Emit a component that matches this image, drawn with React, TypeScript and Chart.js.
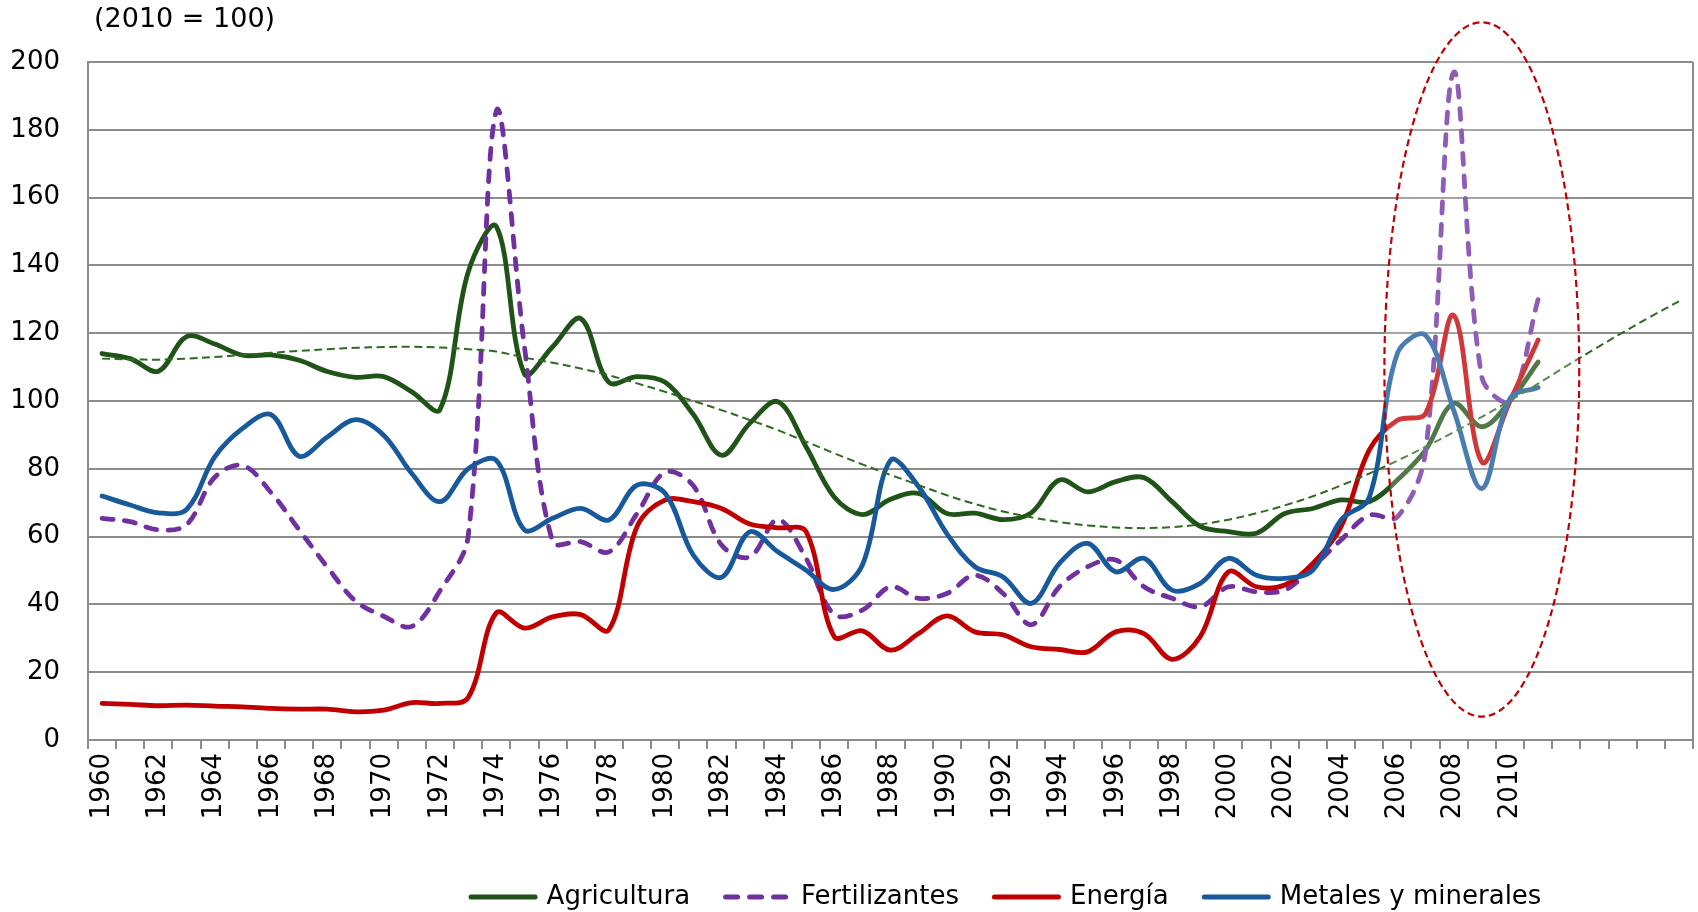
import React, { useEffect, useRef } from 'react';
import { Chart, registerables } from 'chart.js';

Chart.register(...registerables);

const years = [
  '1960', '1961', '1962', '1963', '1964', '1965', '1966', '1967', '1968', '1969',
  '1970', '1971', '1972', '1973', '1974', '1975', '1976', '1977', '1978', '1979',
  '1980', '1981', '1982', '1983', '1984', '1985', '1986', '1987', '1988', '1989',
  '1990', '1991', '1992', '1993', '1994', '1995', '1996', '1997', '1998', '1999',
  '2000', '2001', '2002', '2003', '2004', '2005', '2006', '2007', '2008', '2009',
  '2010', '2011', '2012', '2013', '2014', '2015', '2016',
];

// tick labels shown under the axis (every second year up to 2010)
const shownLabels = [
  '1960', '1962', '1964', '1966', '1968', '1970', '1972', '1974', '1976', '1978',
  '1980', '1982', '1984', '1986', '1988', '1990', '1992', '1994', '1996', '1998',
  '2000', '2002', '2004', '2006', '2008', '2010',
];

const agricultura = [
  114, 112.5, 108.8, 119, 116.8, 113.5, 113.6, 112, 108.7, 107,
  107.2, 102.7, 97.5, 138, 151.5, 108, 116, 124.3, 105.5, 107.2,
  105.5, 96, 84, 93.4, 99.8, 86.5, 71.7, 66.5, 71, 72.7,
  66.8, 66.9, 65, 67, 76.7, 73.2, 76.2, 77.4, 70.3, 63,
  61.5, 61, 66.8, 68.3, 70.8, 70.3, 76.7, 85.5, 99.3, 92.4,
  100, 111.5,
];

const fertilizantes = [
  65.4, 64.4, 62, 63.5, 77.5, 81, 73, 62, 51, 41,
  36.5, 33.5, 44, 60, 185.5, 116, 58.5, 58.5, 55.5, 66.8,
  79, 75, 57.5, 54, 65, 53.6, 37, 38.3, 45.2, 41.8,
  43.2, 48.6, 43.2, 34, 45.2, 51.1, 53.1, 45.2, 41.8, 39.3,
  45.2, 43.7, 44.2, 51.1, 59, 66.3, 65.8, 85, 197, 107,
  100, 130,
];

const energia = [
  10.8, 10.5, 10.1, 10.3, 10, 9.8, 9.3, 9.1, 9.1, 8.3,
  8.8, 11, 10.8, 12.5, 37.5, 33, 36.3, 37, 32.5, 63,
  70.8, 70.3, 68.3, 63.7, 62.6, 61.5, 30.5, 32.2, 26.5, 31.4,
  36.6, 31.9, 31, 27.5, 26.7, 26, 31.9, 31.4, 23.8, 30.5,
  49.6, 45.2, 45.7, 52.1, 62.9, 85.5, 94.3, 96.3, 125.3, 82,
  100, 118,
];

const metales = [
  72, 69.3, 67, 68, 83.5, 92, 96, 83.7, 89.4, 94.5,
  89.9, 78.6, 70.3, 80, 82.5, 62, 65.4, 68.3, 64.9, 75.2,
  72.7, 54.5, 48, 61.4, 55.5, 50.1, 44.4, 51.6, 82.5, 74.7,
  60.9, 51.1, 48.1, 40.3, 52.1, 58, 49.6, 53.6, 44.2, 46.2,
  53.6, 48.6, 47.7, 50.1, 64.9, 71.5, 114, 119.4, 97.3, 74.2,
  100.7, 104,
];

const tendencia = [
  112.5, 112.3, 112.2, 112.5, 113, 113.6, 114.2, 114.8, 115.3, 115.7,
  115.9, 116, 115.8, 115.3, 114.6, 112.8, 111.3, 109.6, 107.6, 105.2,
  102.7, 100, 97.3, 94.4, 91.4, 88, 84.6, 81.3, 78.2, 75.2,
  72.2, 69.6, 67.4, 65.7, 64.3, 63.3, 62.7, 62.5, 62.8, 63.6,
  65, 66.9, 69.2, 71.9, 75.1, 78.6, 82.4, 86.5, 90.8, 95.3,
  100.1, 105.1, 110.3, 115.3, 120.2, 124.9, 129.4,
];

const yTicks = { min: 0, max: 200, step: 20 };
const unitNote = '(2010 = 100)';
// highlighted period (ellipse): centred on 2009, spanning values 7..212
const highlight = { centerIndex: 49, halfWidthCats: 3.46, top: 211.7, bottom: 6.9 };

const FONT = '"DejaVu Sans", Verdana, sans-serif';
const GRID = '#8c8c8c';

const decorPlugin = {
  id: 'decor',
  afterDatasetsDraw(chart: any) {
    const { ctx, scales } = chart;
    const x = scales.x;
    const y = scales.y;
    const cx = x.getPixelForValue(highlight.centerIndex);
    const step = x.getPixelForValue(1) - x.getPixelForValue(0);
    const rx = highlight.halfWidthCats * step;
    const yT = y.getPixelForValue(highlight.top);
    const yB = y.getPixelForValue(highlight.bottom);
    ctx.save();
    ctx.beginPath();
    ctx.ellipse(cx, (yT + yB) / 2, rx, (yB - yT) / 2, 0, 0, Math.PI * 2);
    ctx.fillStyle = 'rgba(255,255,255,0.22)';
    ctx.fill();
    ctx.setLineDash([7, 4]);
    ctx.lineWidth = 2.2;
    ctx.strokeStyle = '#C00000';
    ctx.stroke();
    ctx.restore();
  },
  afterDraw(chart: any) {
    const { ctx, chartArea } = chart;
    ctx.save();
    // right border of plot
    ctx.strokeStyle = GRID;
    ctx.lineWidth = 2;
    ctx.beginPath();
    ctx.moveTo(chartArea.right, chartArea.top);
    ctx.lineTo(chartArea.right, chartArea.bottom);
    ctx.stroke();
    // unit note
    ctx.font = `27px ${FONT}`;
    ctx.fillStyle = '#000';
    ctx.textAlign = 'left';
    ctx.textBaseline = 'middle';
    ctx.fillText(unitNote, chartArea.left + 6, 20);
    // legend
    ctx.font = `26px ${FONT}`;
    const items = chart.data.datasets.filter((d: any) => d.showInLegend);
    const sample = 69;
    const gapText = 9;
    const gapItem = 33;
    const ly = 897;
    let total = 0;
    items.forEach((d: any, i: number) => {
      total += sample + gapText + ctx.measureText(d.label).width + (i < items.length - 1 ? gapItem : 0);
    });
    let lx = 1005 - total / 2;
    items.forEach((d: any) => {
      ctx.beginPath();
      ctx.strokeStyle = d.borderColor;
      ctx.lineWidth = 5;
      ctx.lineCap = 'round';
      ctx.setLineDash(d.legendDash || []);
      ctx.moveTo(lx + 2.5, ly);
      ctx.lineTo(lx + sample - 2.5, ly);
      ctx.stroke();
      ctx.setLineDash([]);
      lx += sample + gapText;
      ctx.fillStyle = '#000';
      ctx.fillText(d.label, lx, ly);
      lx += ctx.measureText(d.label).width + gapItem;
    });
    ctx.restore();
  },
};

export default function App() {
  const canvasRef = useRef<HTMLCanvasElement | null>(null);

  useEffect(() => {
    if (!canvasRef.current) return;
    const common = {
      pointRadius: 0,
      pointHoverRadius: 0,
      fill: false,
      tension: 0.35,
      borderJoinStyle: 'round',
    };
    const chart = new Chart(canvasRef.current, {
      type: 'line',
      data: {
        labels: years,
        datasets: [
          {
            ...common,
            label: 'Tendencia',
            data: tendencia,
            borderColor: '#2E6B1E',
            borderWidth: 2,
            borderDash: [8, 4.5],
            borderCapStyle: 'butt',
            order: 0,
            showInLegend: false,
          },
          {
            ...common,
            label: 'Agricultura',
            data: agricultura,
            borderColor: '#1F5317',
            borderWidth: 4.8,
            borderCapStyle: 'round',
            order: 4,
            showInLegend: true,
          },
          {
            ...common,
            label: 'Fertilizantes',
            data: fertilizantes,
            borderColor: '#7030A0',
            borderWidth: 4.8,
            borderDash: [11, 11.5],
            borderCapStyle: 'round',
            order: 3,
            showInLegend: true,
            legendDash: [12, 12],
          },
          {
            ...common,
            label: 'Energía',
            data: energia,
            borderColor: '#C00000',
            borderWidth: 4.8,
            borderCapStyle: 'round',
            order: 2,
            showInLegend: true,
          },
          {
            ...common,
            label: 'Metales y minerales',
            data: metales,
            borderColor: '#17599B',
            borderWidth: 4.8,
            borderCapStyle: 'round',
            order: 1,
            showInLegend: true,
          },
        ] as any,
      },
      options: {
        animation: false,
        responsive: true,
        maintainAspectRatio: false,
        layout: { padding: { top: 62, right: 5, bottom: 72, left: 0 } },
        plugins: {
          legend: { display: false },
          tooltip: { enabled: false },
          title: { display: false },
        },
        scales: {
          x: {
            type: 'category',
            offset: true,
            grid: {
              offset: true,
              drawOnChartArea: false,
              drawTicks: true,
              tickLength: 9,
              color: GRID,
              lineWidth: 2,
            },
            border: { display: true, color: GRID, width: 2 },
            ticks: {
              autoSkip: false,
              maxRotation: 90,
              minRotation: 90,
              padding: 4,
              color: '#000',
              font: { family: FONT, size: 26 },
              callback: function (this: any, val: any) {
                const lab = this.getLabelForValue(val);
                return shownLabels.includes(lab) ? lab : '';
              },
            },
            afterFit: (scale: any) => {
              scale.height = 100;
              scale.paddingLeft = 0;
              scale.paddingRight = 0;
            },
          },
          y: {
            min: yTicks.min,
            max: yTicks.max,
            grid: { color: GRID, lineWidth: 2, drawTicks: false },
            border: { display: true, color: GRID, width: 2 },
            ticks: {
              stepSize: yTicks.step,
              padding: 28,
              color: '#000',
              font: { family: FONT, size: 26 },
            },
            afterFit: (scale: any) => {
              scale.width = 88;
            },
          },
        },
      } as any,
      plugins: [decorPlugin],
    });
    return () => chart.destroy();
  }, []);

  return (
    <div style={{ position: 'fixed', left: 0, top: 0, width: 1698, height: 912, background: '#fff' }}>
      <canvas ref={canvasRef} />
    </div>
  );
}
